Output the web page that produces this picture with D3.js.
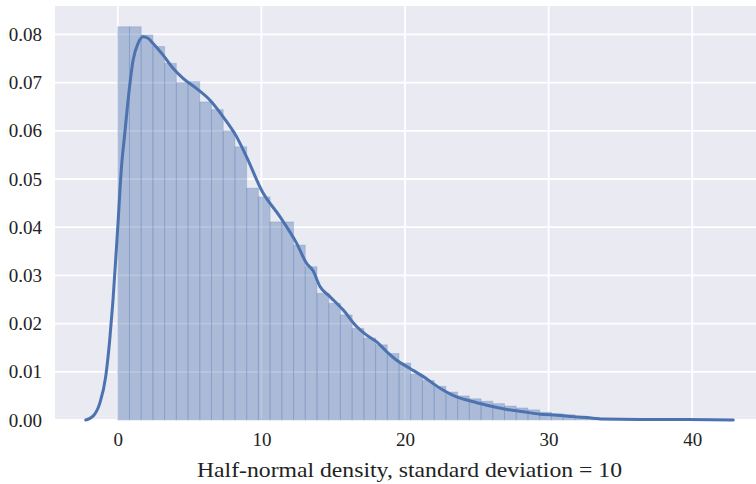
<!DOCTYPE html>
<html><head><meta charset="utf-8">
<script src="https://cdn.jsdelivr.net/npm/d3@7"></script>
<style>html,body{margin:0;padding:0;background:#fff;}svg{display:block;}</style>
</head><body>
<svg id="chart" width="756" height="484"></svg>
<script>
// Histogram: 50 bins from 0 to 40.8 (density)
const binStart = 0;
const binWidth = 0.816;
const barHeights = [
  0.0816, 0.0816, 0.0799, 0.0775, 0.0740, 0.0700, 0.0702, 0.0660, 0.0644, 0.0600,
  0.0567, 0.0481, 0.0463, 0.0411, 0.0411, 0.0363, 0.0318, 0.0263, 0.0242, 0.0218,
  0.0190, 0.0170, 0.0156, 0.0138, 0.0118, 0.0095, 0.0082, 0.0070, 0.0058, 0.0050,
  0.0044, 0.0039, 0.0034, 0.0029, 0.0025, 0.0021, 0.0016, 0.0013, 0.0011, 0.0008,
  0.0005, 0.0003, 0.0002, 0.0002, 0.0001, 0.0001, 0.00008, 0.00005, 0.00004, 0.00003
];
// KDE curve
const kdeX = [-2.23, -1.72, -1.25, -0.84, -0.56, -0.33, 0, 0.26, 0.49, 0.72, 1.07, 1.41, 1.76, 2.11, 2.46,
  3.16, 3.85, 4.55, 5.48, 6.41, 7.34, 8.27, 8.97, 10.06, 11.29, 12.45, 13.15, 13.59, 14.08, 14.77,
  15.70, 16.63, 17.33, 18.03, 18.72, 19.42, 20.35, 21.28, 22.44, 23.60, 24.76, 25.92, 27.09, 28.24,
  29.41, 30.57, 31.73, 32.66, 33.82, 36.38, 39.16, 42.86];
const kdeY = [0, 0.0008, 0.0035, 0.0090, 0.0166, 0.0249, 0.0400, 0.0525, 0.0595, 0.0664, 0.0747, 0.0781, 0.0795, 0.0792, 0.0781,
  0.0757, 0.0730, 0.0709, 0.0688, 0.0664, 0.0629, 0.0588, 0.0546, 0.0474, 0.0422, 0.0367, 0.0325, 0.0310, 0.0277, 0.0256,
  0.0228, 0.0194, 0.0176, 0.0162, 0.0142, 0.0124, 0.0107, 0.0090, 0.0066, 0.0048, 0.0038, 0.0029, 0.0022, 0.0017,
  0.0012, 0.0010, 0.0007, 0.0005, 0.0002, 0.0001, 0.0001, 0.0];
const xTicks = [0, 10, 20, 30, 40];
const yTicks = [0, 0.01, 0.02, 0.03, 0.04, 0.05, 0.06, 0.07, 0.08];
const xLabel = "Half-normal density, standard deviation = 10";

const svg = d3.select("#chart");
const L = 55, R = 756, T = 6, B = 420;
const x = d3.scaleLinear().domain([-4.37, 44.44]).range([L, R]);
const y = d3.scaleLinear().domain([0, 0.0859]).range([B, T]);
const font = "Liberation Serif, Times New Roman, Times, serif";

svg.append("rect").attr("x", L).attr("y", T).attr("width", R - L).attr("height", B - T).attr("fill", "#EAEAF2");

// grid
const g = svg.append("g");
g.selectAll("line.h").data(yTicks).enter().append("line")
  .attr("x1", L).attr("x2", R).attr("y1", d => y(d)).attr("y2", d => y(d))
  .attr("stroke", "#fff").attr("stroke-width", 1.8);
g.selectAll("line.v").data(xTicks).enter().append("line")
  .attr("y1", T).attr("y2", B).attr("x1", d => x(d)).attr("x2", d => x(d))
  .attr("stroke", "#fff").attr("stroke-width", 1.8);

// bars
svg.append("g").selectAll("rect").data(barHeights).enter().append("rect")
  .attr("x", (d, i) => x(binStart + i * binWidth))
  .attr("width", x(binWidth) - x(0))
  .attr("y", d => y(d))
  .attr("height", d => B - y(d))
  .attr("fill", "#4C72B0").attr("fill-opacity", 0.4)
  .attr("stroke", "#4C72B0").attr("stroke-opacity", 0.22).attr("stroke-width", 1);

// KDE
const line = d3.line().x((d, i) => x(kdeX[i])).y(d => y(d)).curve(d3.curveMonotoneX);
svg.append("path").datum(kdeY).attr("d", line)
  .attr("fill", "none").attr("stroke", "#4C72B0").attr("stroke-width", 3)
  .attr("stroke-linejoin", "round").attr("stroke-linecap", "round");

// axes labels
const xAxis = d3.axisBottom(x).tickValues(xTicks).tickSize(0).tickPadding(0).tickFormat(d3.format("d"));
const gx = svg.append("g").attr("transform", `translate(0,${B})`).call(xAxis);
gx.select(".domain").remove();
gx.selectAll("text").style("font-family", font).style("font-size", "19px").attr("fill", "#222")
  .attr("dy", null).attr("y", 26);

const yAxis = d3.axisLeft(y).tickValues(yTicks).tickSize(0).tickPadding(0).tickFormat(d3.format(".2f"));
const gy = svg.append("g").attr("transform", `translate(42,0)`).call(yAxis);
gy.select(".domain").remove();
gy.selectAll("text").style("font-family", font).style("font-size", "19px").attr("fill", "#222")
  .attr("x", 0).attr("dy", "0.32em");

svg.append("text").attr("x", 409.5).attr("y", 477).attr("text-anchor", "middle")
  .style("font-family", font).style("font-size", "21.5px").attr("fill", "#222")
  .attr("textLength", 425).attr("lengthAdjust", "spacingAndGlyphs")
  .text(xLabel);
</script>
</body></html>
